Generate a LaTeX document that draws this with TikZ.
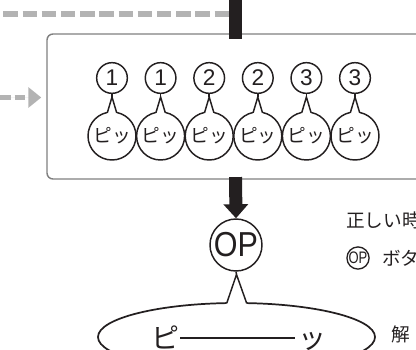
\documentclass[tikz,border=0pt]{standalone}
\usepackage{fontspec}
\usepackage{graphicx}
\setmainfont{Liberation Sans}
\newfontfamily\jp{Noto Sans CJK JP}
\usetikzlibrary{arrows.meta,shapes.geometric}
\definecolor{ink}{HTML}{231F20}
\definecolor{dashgray}{HTML}{B3B3B3}
\definecolor{boxgray}{HTML}{808080}
\begin{document}
\begin{tikzpicture}[x=0.75pt,y=-0.75pt,
  numcirc/.style={circle, draw=ink, line width=1.1pt, minimum size=23pt, inner sep=0pt,
    text=ink, font=\fontsize{17}{17}\selectfont},
  bubble/.style={circle, draw=ink, line width=1.1pt, minimum size=36pt, inner sep=0pt,
    text=ink, font=\jp\fontsize{14}{14}\selectfont},
  tailline/.style={draw=ink, line width=1.1pt, line join=miter},
  bar/.style={draw=ink, line width=9.75pt},
  topdash/.style={draw=dashgray, line width=4.9pt, dash pattern=on 10.8pt off 3.6pt},
  leftdash/.style={draw=dashgray, line width=3.75pt, dash pattern=on 7.9pt off 3pt,
    -{Triangle[width=15pt,length=9.75pt]}, fill=dashgray},
  jptext/.style={anchor=base west, inner sep=0pt, text=ink, font=\jp\fontsize{14}{14}\selectfont}]
\useasboundingbox (0,0) rectangle (416,349);
\clip (0,0) rectangle (416,349);

% frame
\node[draw=boxgray, line width=1.1pt, rounded corners=4.5pt, minimum width=287.25pt,
  minimum height=108.75pt, inner sep=0pt] (box) at (238.5,106.5) {};

% top incoming lines
\coordinate (bt) at (235.5,0);
\coordinate (gd) at (3.3,14);
\draw[topdash] (gd) -- ([xshift=-4.9pt]bt |- gd);
\draw[bar] (bt) -- ([yshift=-4.5pt]bt |- box.north);

% left incoming arrow
\coordinate (la) at (0,97.5);
\draw[leftdash] (la) -- ([xshift=-3.75pt]box.west |- la);

% circled numbers and bubbles
\foreach \i/\n/\x in {1/1/112,2/1/160.6,3/2/209.2,4/2/257.8,5/3/306.4,6/3/355}{
  \node[numcirc] (c\i) at (\x,78) {\n};
  \node[bubble] (b\i) at (\x,136) {ピッ};
  \fill[white] (\x,97) -- (\x-4.7,112.8) -- (\x-4.7,115) -- (\x+4.7,115) -- (\x+4.7,112.8) -- cycle;
  \draw[tailline] (c\i.south) -- (\x,97);
  \draw[tailline] (\x-4.7,112.8) -- (\x,97) -- (\x+4.7,112.8);
}

% OP
\node[circle, draw=ink, line width=1.1pt, minimum size=39pt, inner sep=0pt, text=ink,
  font=\fontsize{26}{26}\selectfont] (op) at (236,245) {\scalebox{0.88}[1]{OP}};
\draw[bar, -{Triangle[width=18pt,length=10.5pt]}] ([yshift=2pt]bt |- box.south) -- (op.north);

% big bubble
\node[ellipse, draw=ink, line width=1.3pt, minimum width=207.75pt, minimum height=51pt,
  inner sep=0pt] (big) at (236.5,337) {};
\fill[white] (236.5,274.5) -- (226.7,303.3) -- (226.7,306) -- (246.7,306) -- (246.7,303.3) -- cycle;
\draw[tailline] (op.south) -- (236.5,274.5);
\draw[tailline] (226.7,303.3) -- (236.5,274.5) -- (246.7,303.3);
\node[anchor=base west, inner sep=0pt, text=ink, font=\jp\fontsize{21}{21}\selectfont] (pi) at (151,348.6)
  {ピ\kern0.75pt\rule[7.4pt]{86.25pt}{1.1pt}\kern2.25pt ッ};

% right texts
\node[jptext] (t1) at (346,227) {正しい時};
\node[circle, draw=ink, line width=1pt, minimum size=15.5pt, inner sep=0pt, text=ink,
  font=\fontsize{12.5}{12.5}\selectfont] (ops) at (358,258) {\scalebox{0.78}[1]{OP}};
\node[jptext] (t2) at (382,265) {ボタン};
\node[jptext] (t3) at (391,341) {解};
\end{tikzpicture}
\end{document}
